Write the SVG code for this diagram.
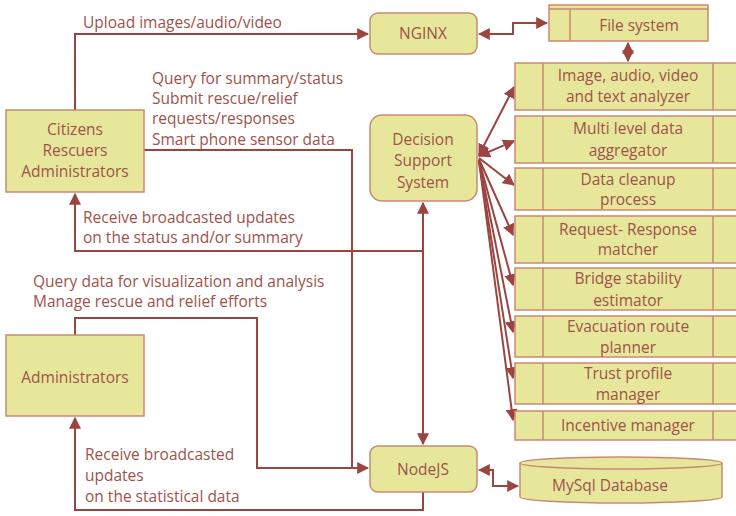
<svg xmlns="http://www.w3.org/2000/svg" width="736" height="516" viewBox="0 0 736 516">
<style>
.box{fill:#e6e79b;stroke:#c98a72;stroke-width:1.5}
.ln{fill:none;stroke:#9b4540;stroke-width:2}
.t{font-family:"Open Sans","Liberation Sans",Arial,sans-serif;font-size:15.5px;fill:#a0524a}
.c{text-anchor:middle}
</style>
<defs>
<marker id="ah" viewBox="0 0 10 10" refX="9" refY="5" markerWidth="6" markerHeight="6" orient="auto-start-reverse" markerUnits="strokeWidth">
<path d="M0,0 L10,5 L0,10 z" fill="#9b4540"/>
</marker>
</defs>
<rect width="736" height="516" fill="#ffffff"/>

<g id="connectors">
<path class="ln" d="M75,110 V34 H368" marker-end="url(#ah)"/>
<path class="ln" d="M479,34 H513 V23 H547" marker-start="url(#ah)" marker-end="url(#ah)"/>
<path class="ln" d="M628,43 V61" marker-start="url(#ah)" marker-end="url(#ah)"/>
<path class="ln" d="M144,150 H352 V468 H368" marker-end="url(#ah)"/>
<path class="ln" d="M75,335 V318 H257 V468 H352"/>
<path class="ln" d="M423,251 H75 V194" marker-end="url(#ah)"/>
<path class="ln" d="M423,203 V444" marker-start="url(#ah)" marker-end="url(#ah)"/>
<path class="ln" d="M423,492 V510 H75 V418" marker-end="url(#ah)"/>
<path class="ln" d="M479,470 H493 V486 H518" marker-start="url(#ah)" marker-end="url(#ah)"/>
<path class="ln" d="M479,155 L514,87" marker-start="url(#ah)" marker-end="url(#ah)"/>
<path class="ln" d="M479,156 L514,141" marker-start="url(#ah)" marker-end="url(#ah)"/>
<path class="ln" d="M479,158 L514,185" marker-end="url(#ah)"/>
<path class="ln" d="M479,159 L513,235" marker-end="url(#ah)"/>
<path class="ln" d="M479,160 L513,285" marker-end="url(#ah)"/>
<path class="ln" d="M479,160 L513,332" marker-end="url(#ah)"/>
<path class="ln" d="M479,161 L513,378" marker-end="url(#ah)"/>
<path class="ln" d="M479,161 L513,420" marker-end="url(#ah)"/>
</g>

<g id="labels">
<text class="t" x="83" y="28">Upload images/audio/video</text>
<text class="t" x="152" y="84">Query for summary/status</text>
<text class="t" x="152" y="104">Submit rescue/relief</text>
<text class="t" x="152" y="124">requests/responses</text>
<text class="t" x="152" y="145">Smart phone sensor data</text>
<text class="t" x="83" y="223">Receive broadcasted updates</text>
<text class="t" x="83" y="243">on the status and/or summary</text>
<text class="t" x="33" y="287">Query data for visualization and analysis</text>
<text class="t" x="33" y="307">Manage rescue and relief efforts</text>
<text class="t" x="85" y="460">Receive broadcasted</text>
<text class="t" x="85" y="481">updates</text>
<text class="t" x="85" y="502">on the statistical data</text>
</g>

<g id="citizens">
<rect class="box" x="6" y="110" width="138" height="82"/>
<text class="t c" x="75" y="135">Citizens</text>
<text class="t c" x="75" y="156">Rescuers</text>
<text class="t c" x="75" y="177">Administrators</text>
</g>

<g id="administrators">
<rect class="box" x="6" y="335" width="138" height="81"/>
<text class="t c" x="75" y="383">Administrators</text>
</g>

<g id="nginx">
<rect class="box" x="370" y="13" width="107" height="41" rx="8"/>
<text class="t c" x="423" y="39">NGINX</text>
</g>

<g id="filesystem">
<rect class="box" x="549" y="5" width="159" height="36"/>
<line class="box" x1="549" y1="9" x2="708" y2="9"/>
<line class="box" x1="570" y1="9" x2="570" y2="41"/>
<text class="t c" x="639" y="31">File system</text>
</g>

<g id="dss">
<rect class="box" x="370" y="115" width="107" height="86" rx="12"/>
<text class="t c" x="423" y="145">Decision</text>
<text class="t c" x="423" y="166">Support</text>
<text class="t c" x="423" y="188">System</text>
</g>

<g id="nodejs">
<rect class="box" x="370" y="446" width="107" height="46" rx="8"/>
<text class="t c" x="423" y="475">NodeJS</text>
</g>

<g id="mysql">
<path class="box" d="M520,463 V497 A101,6 0 0 0 722,497 V463"/>
<ellipse class="box" cx="621" cy="463" rx="101" ry="6"/>
<text class="t c" x="610" y="491">MySql Database</text>
</g>

<g id="m1">
<rect class="box" x="515" y="63" width="230" height="47"/>
<line class="box" x1="543" y1="63" x2="543" y2="110"/>
<line class="box" x1="713" y1="63" x2="713" y2="110"/>
<text class="t c" x="628" y="81">Image, audio, video</text>
<text class="t c" x="628" y="102">and text analyzer</text>
</g>
<g id="m2">
<rect class="box" x="515" y="116" width="230" height="47"/>
<line class="box" x1="543" y1="116" x2="543" y2="163"/>
<line class="box" x1="713" y1="116" x2="713" y2="163"/>
<text class="t c" x="628" y="134">Multi level data</text>
<text class="t c" x="628" y="156">aggregator</text>
</g>
<g id="m3">
<rect class="box" x="515" y="168" width="230" height="42"/>
<line class="box" x1="543" y1="168" x2="543" y2="210"/>
<line class="box" x1="713" y1="168" x2="713" y2="210"/>
<text class="t c" x="628" y="185">Data cleanup</text>
<text class="t c" x="628" y="205">process</text>
</g>
<g id="m4">
<rect class="box" x="515" y="216" width="230" height="47"/>
<line class="box" x1="543" y1="216" x2="543" y2="263"/>
<line class="box" x1="713" y1="216" x2="713" y2="263"/>
<text class="t c" x="628" y="235">Request- Response</text>
<text class="t c" x="628" y="255">matcher</text>
</g>
<g id="m5">
<rect class="box" x="515" y="268" width="230" height="42"/>
<line class="box" x1="543" y1="268" x2="543" y2="310"/>
<line class="box" x1="713" y1="268" x2="713" y2="310"/>
<text class="t c" x="628" y="284">Bridge stability</text>
<text class="t c" x="628" y="306">estimator</text>
</g>
<g id="m6">
<rect class="box" x="515" y="316" width="230" height="41"/>
<line class="box" x1="543" y1="316" x2="543" y2="357"/>
<line class="box" x1="713" y1="316" x2="713" y2="357"/>
<text class="t c" x="628" y="332">Evacuation route</text>
<text class="t c" x="628" y="353">planner</text>
</g>
<g id="m7">
<rect class="box" x="515" y="363" width="230" height="41"/>
<line class="box" x1="543" y1="363" x2="543" y2="404"/>
<line class="box" x1="713" y1="363" x2="713" y2="404"/>
<text class="t c" x="628" y="379">Trust profile</text>
<text class="t c" x="628" y="400">manager</text>
</g>
<g id="m8">
<rect class="box" x="515" y="411" width="230" height="29"/>
<line class="box" x1="543" y1="411" x2="543" y2="440"/>
<line class="box" x1="713" y1="411" x2="713" y2="440"/>
<text class="t c" x="628" y="431">Incentive manager</text>
</g>
</svg>
